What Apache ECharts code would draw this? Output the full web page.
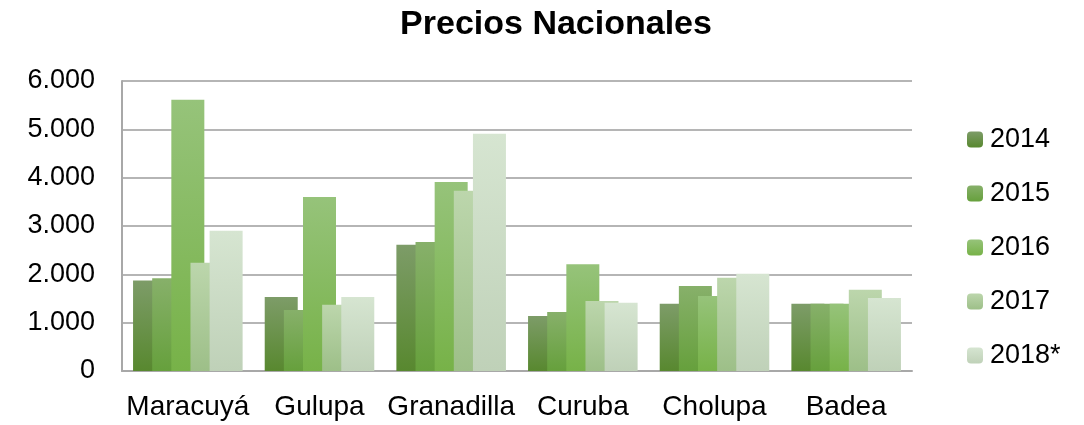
<!DOCTYPE html>
<html>
<head>
<meta charset="utf-8">
<script src="https://cdn.jsdelivr.net/npm/echarts@6/dist/echarts.min.js"></script>
<style>
  html, body { margin: 0; padding: 0; background: #fff; }
  #chart { width: 1084px; height: 425px; }
</style>
</head>
<body>
<div id="chart"></div>
<script>
const categories = ['Maracuyá', 'Gulupa', 'Granadilla', 'Curuba', 'Cholupa', 'Badea']
const years = ['2014', '2015', '2016', '2017', '2018*']

const v2014 = [1870, 1530, 2610, 1140, 1390, 1390]
const v2015 = [1920, 1260, 2670, 1220, 1760, 1390]
const v2016 = [5610, 3600, 3910, 2210, 1550, 1390]
const v2017 = [2240, 1370, 3730, 1450, 1930, 1680]
const v2018 = [2900, 1530, 4910, 1410, 2010, 1510]

const yTicks = [0, 1000, 2000, 3000, 4000, 5000, 6000]

// top / bottom colour of each bar's gradient
const shades = [
  ['#7d9c68', '#58882f'],
  ['#87b06a', '#66a03c'],
  ['#96c37a', '#77b248'],
  ['#bcd6ac', '#9dbf88'],
  ['#d6e5d1', '#bfd1b8']
]

const seriesData = [v2014, v2015, v2016, v2017, v2018]

const fmt = (v) => (v === 0 ? '0' : v / 1000 + '.000')

const chart = echarts.init(document.getElementById('chart'))
chart.setOption({
  animation: false,
  title: {
    text: 'Precios Nacionales',
    left: 551,
    textAlign: 'center',
    top: 3,
    textStyle: { fontFamily: 'Liberation Sans', fontWeight: 'bold', fontSize: 34, color: '#000' }
  },
  legend: {
    orient: 'vertical',
    left: 962,
    top: 121,
    itemWidth: 16,
    itemHeight: 16,
    itemGap: 27,
    data: years,
    textStyle: { fontFamily: 'Liberation Sans', fontSize: 27, color: '#000', lineHeight: 27, padding: [0, 0, 0, 2] }
  },
  grid: { left: 122, right: 172, top: 81, bottom: 54 },
  xAxis: {
    type: 'category',
    data: categories,
    axisTick: { show: false },
    axisLine: { lineStyle: { color: '#a8a8a8', width: 2 } },
    axisLabel: { interval: 0, fontFamily: 'Liberation Sans', fontSize: 28, color: '#000', margin: 22 }
  },
  yAxis: {
    type: 'value',
    min: yTicks[0],
    max: yTicks[yTicks.length - 1],
    interval: 1000,
    axisLine: { show: true, lineStyle: { color: '#a8a8a8', width: 2 } },
    axisTick: { show: false },
    splitLine: { lineStyle: { color: '#b5b5b5', width: 2 } },
    axisLabel: { fontFamily: 'Liberation Sans', fontSize: 27, color: '#000', margin: 27, formatter: fmt }
  },
  series: years.map((y, i) => ({
    name: y,
    type: 'bar',
    barWidth: 33,
    barGap: '-42%',
    data: seriesData[i],
    itemStyle: {
      color: new echarts.graphic.LinearGradient(0, 0, 0, 1, [
        { offset: 0, color: shades[i][0] },
        { offset: 1, color: shades[i][1] }
      ])
    }
  }))
})
</script>
</body>
</html>
